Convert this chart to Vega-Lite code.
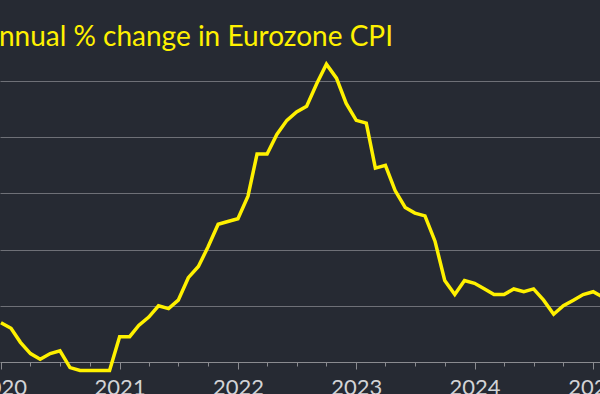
{
  "$schema": "https://vega.github.io/schema/vega-lite/v6.json",
  "width": 600,
  "height": 362,
  "autosize": "none",
  "padding": {"left": 0, "top": 0, "right": 0, "bottom": 32},
  "background": "#262a33",
  "title": {
    "text": "Annual % change in Eurozone CPI",
    "anchor": "start",
    "frame": "group",
    "orient": "top",
    "baseline": "alphabetic",
    "offset": 0,
    "dx": -20,
    "dy": 74,
    "font": "Lato",
    "fontSize": 28,
    "fontWeight": "normal",
    "color": "#fff100"
  },
  "config": {"view": {"stroke": null}},
  "data": {
    "values": [
      {"date": "2020-01-01", "cpi": 1.4}, {"date": "2020-02-01", "cpi": 1.2}, {"date": "2020-03-01", "cpi": 0.7},
      {"date": "2020-04-01", "cpi": 0.3}, {"date": "2020-05-01", "cpi": 0.1}, {"date": "2020-06-01", "cpi": 0.3},
      {"date": "2020-07-01", "cpi": 0.4}, {"date": "2020-08-01", "cpi": -0.2}, {"date": "2020-09-01", "cpi": -0.3},
      {"date": "2020-10-01", "cpi": -0.3}, {"date": "2020-11-01", "cpi": -0.3}, {"date": "2020-12-01", "cpi": -0.3},
      {"date": "2021-01-01", "cpi": 0.9}, {"date": "2021-02-01", "cpi": 0.9}, {"date": "2021-03-01", "cpi": 1.3},
      {"date": "2021-04-01", "cpi": 1.6}, {"date": "2021-05-01", "cpi": 2.0}, {"date": "2021-06-01", "cpi": 1.9},
      {"date": "2021-07-01", "cpi": 2.2}, {"date": "2021-08-01", "cpi": 3.0}, {"date": "2021-09-01", "cpi": 3.4},
      {"date": "2021-10-01", "cpi": 4.1}, {"date": "2021-11-01", "cpi": 4.9}, {"date": "2021-12-01", "cpi": 5.0},
      {"date": "2022-01-01", "cpi": 5.1}, {"date": "2022-02-01", "cpi": 5.9}, {"date": "2022-03-01", "cpi": 7.4},
      {"date": "2022-04-01", "cpi": 7.4}, {"date": "2022-05-01", "cpi": 8.1}, {"date": "2022-06-01", "cpi": 8.6},
      {"date": "2022-07-01", "cpi": 8.9}, {"date": "2022-08-01", "cpi": 9.1}, {"date": "2022-09-01", "cpi": 9.9},
      {"date": "2022-10-01", "cpi": 10.6}, {"date": "2022-11-01", "cpi": 10.1}, {"date": "2022-12-01", "cpi": 9.2},
      {"date": "2023-01-01", "cpi": 8.6}, {"date": "2023-02-01", "cpi": 8.5}, {"date": "2023-03-01", "cpi": 6.9},
      {"date": "2023-04-01", "cpi": 7.0}, {"date": "2023-05-01", "cpi": 6.1}, {"date": "2023-06-01", "cpi": 5.5},
      {"date": "2023-07-01", "cpi": 5.3}, {"date": "2023-08-01", "cpi": 5.2}, {"date": "2023-09-01", "cpi": 4.3},
      {"date": "2023-10-01", "cpi": 2.9}, {"date": "2023-11-01", "cpi": 2.4}, {"date": "2023-12-01", "cpi": 2.9},
      {"date": "2024-01-01", "cpi": 2.8}, {"date": "2024-02-01", "cpi": 2.6}, {"date": "2024-03-01", "cpi": 2.4},
      {"date": "2024-04-01", "cpi": 2.4}, {"date": "2024-05-01", "cpi": 2.6}, {"date": "2024-06-01", "cpi": 2.5},
      {"date": "2024-07-01", "cpi": 2.6}, {"date": "2024-08-01", "cpi": 2.2}, {"date": "2024-09-01", "cpi": 1.7},
      {"date": "2024-10-01", "cpi": 2.0}, {"date": "2024-11-01", "cpi": 2.2}, {"date": "2024-12-01", "cpi": 2.4},
      {"date": "2025-01-01", "cpi": 2.5}, {"date": "2025-02-01", "cpi": 2.3}
    ]
  },
  "mark": {"type": "line", "color": "#fff100", "strokeWidth": 3.5, "strokeJoin": "miter"},
  "encoding": {
    "x": {
      "field": "date",
      "type": "temporal",
      "scale": {"domain": [{"year": 2019, "month": 12, "date": 29}, {"year": 2025, "month": 1, "date": 22}]},
      "axis": {
        "title": null,
        "grid": false,
        "domain": true,
        "domainColor": "#8a8b90",
        "domainWidth": 1,
        "values": [
          {"year": 2020, "month": 1, "date": 1}, {"year": 2020, "month": 4, "date": 1}, {"year": 2020, "month": 7, "date": 1}, {"year": 2020, "month": 10, "date": 1},
          {"year": 2021, "month": 1, "date": 1}, {"year": 2021, "month": 4, "date": 1}, {"year": 2021, "month": 7, "date": 1}, {"year": 2021, "month": 10, "date": 1},
          {"year": 2022, "month": 1, "date": 1}, {"year": 2022, "month": 4, "date": 1}, {"year": 2022, "month": 7, "date": 1}, {"year": 2022, "month": 10, "date": 1},
          {"year": 2023, "month": 1, "date": 1}, {"year": 2023, "month": 4, "date": 1}, {"year": 2023, "month": 7, "date": 1}, {"year": 2023, "month": 10, "date": 1},
          {"year": 2024, "month": 1, "date": 1}, {"year": 2024, "month": 4, "date": 1}, {"year": 2024, "month": 7, "date": 1}, {"year": 2024, "month": 10, "date": 1},
          {"year": 2025, "month": 1, "date": 1}
        ],
        "labelExpr": "month(datum.value) === 0 ? timeFormat(datum.value, '%Y') : ''",
        "ticks": true,
        "tickColor": "#8a8b90",
        "tickWidth": 1,
        "tickSize": {"condition": {"test": "month(datum.value) === 0", "value": 7}, "value": 4},
        "labelFont": "Lato",
        "labelFontSize": 22,
        "labelColor": "#d2d3d6",
        "labelBaseline": "alphabetic",
        "labelPadding": 25,
        "labelFlush": false,
        "labelOverlap": false
      }
    },
    "y": {
      "field": "cpi",
      "type": "quantitative",
      "scale": {"domain": [0, 12.883], "nice": false, "zero": false},
      "axis": {
        "title": null,
        "values": [2, 4, 6, 8, 10],
        "labels": false,
        "ticks": false,
        "domain": false,
        "grid": true,
        "gridColor": "#6e7077",
        "gridWidth": 1
      }
    }
  }
}
